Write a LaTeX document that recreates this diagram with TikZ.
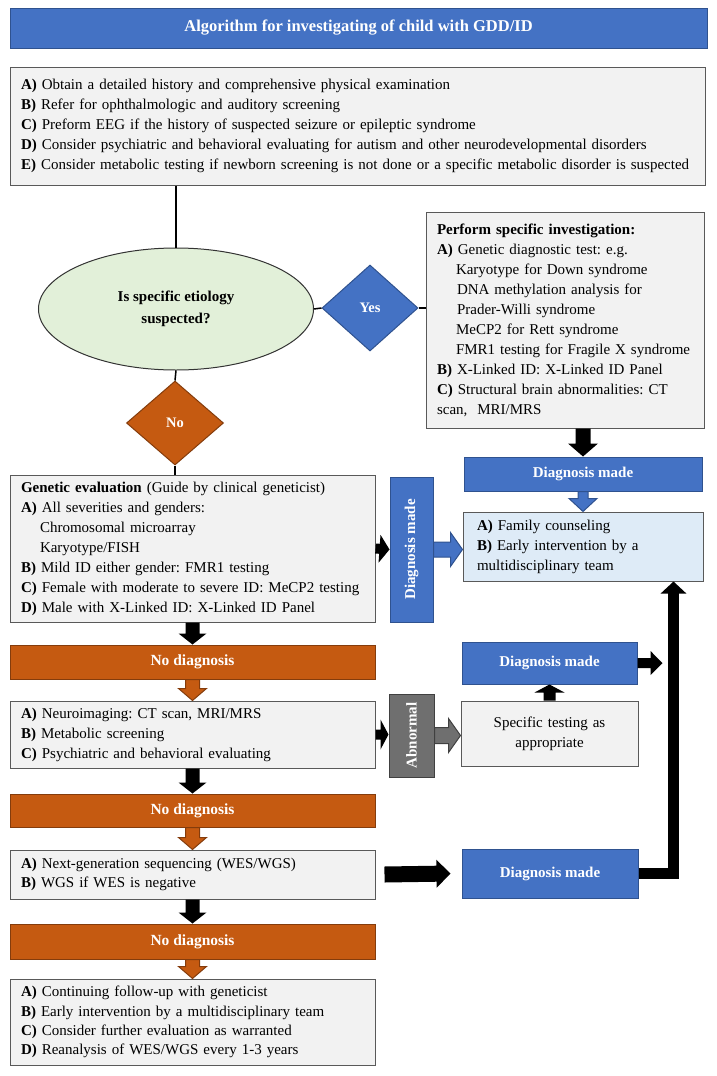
\documentclass[tikz,border=0pt]{standalone}
\usepackage{fontspec}
\setmainfont{Liberation Serif}
\usepackage{graphicx}
\usepackage{tikz}
\usetikzlibrary{shapes.geometric}
\usetikzlibrary{calc}
\usetikzlibrary{arrows.meta}
\frenchspacing
\definecolor{dxblue}{HTML}{4472C4}
\definecolor{dxblueline}{HTML}{2F528F}
\definecolor{ndorange}{HTML}{C55A11}
\definecolor{ndorangeline}{HTML}{843C0C}
\definecolor{boxgray}{HTML}{F2F2F2}
\definecolor{boxline}{HTML}{595959}
\definecolor{abngray}{HTML}{6F6F6F}
\definecolor{ellgreen}{HTML}{E2F0D9}
\definecolor{famblue}{HTML}{DEEBF7}
\tikzstyle{infobox}=[rectangle,draw=boxline,fill=boxgray,line width=1pt,inner xsep=11pt,inner ysep=0pt,align=left,font=\fontsize{15}{20}\selectfont]
\tikzstyle{dxbar}=[rectangle,draw=dxblueline,fill=dxblue,line width=1pt,inner sep=0pt,text=white,font=\bfseries\fontsize{15}{18}\selectfont]
\tikzstyle{ndbar}=[rectangle,draw=ndorangeline,fill=ndorange,line width=1pt,inner sep=0pt,text=white,font=\bfseries\fontsize{15.5}{18}\selectfont]
\tikzstyle{choice}=[diamond,line width=1pt,inner sep=0pt,text=white,font=\bfseries\fontsize{14.5}{18}\selectfont]
\tikzstyle{link}=[draw,line width=1.5pt]
\tikzstyle{fatblack}=[fill=black]
\tikzstyle{fatblue}=[fill=dxblue,draw=dxblueline,line width=1pt]
\tikzstyle{fatorange}=[fill=ndorange,draw=ndorangeline,line width=1pt]
\tikzstyle{fatgray}=[fill=abngray,draw=black!75,line width=1pt]
% block arrow: style, from, to, half shaft, half head, head length
\newcommand{\fatarrow}[6]{%
  \coordinate (hb) at ($(#3)!#6!(#2)$);
  \path[#1] ($(#2)!#4!90:(#3)$) -- ($(hb)!#4!90:(#3)$) -- ($(hb)!#5!90:(#3)$)
    -- (#3) -- ($(hb)!#5!-90:(#3)$) -- ($(hb)!#4!-90:(#3)$) -- ($(#2)!#4!-90:(#3)$) -- cycle;}
\begin{document}
\begin{tikzpicture}[x=1pt,y=-1pt]
  \useasboundingbox (0,0) rectangle (717,1076);

  \node[dxbar, minimum width=697pt, minimum height=40pt, font=\bfseries\fontsize{16.5}{18}\selectfont] (title) at (358.5,28) {Algorithm for investigating of child with GDD/ID};

  \node[infobox, text width=673pt, minimum height=118pt] (hist) at (357.5,126) {%
    \textbf{A)} Obtain a detailed history and comprehensive physical examination\\
    \textbf{B)} Refer for ophthalmologic and auditory screening\\
    \textbf{C)} Preform EEG if the history of suspected seizure or epileptic syndrome\\
    \textbf{D)} Consider psychiatric and behavioral evaluating for autism and other neurodevelopmental disorders\\
    \textbf{E)} Consider metabolic testing if newborn screening is not done or a specific metabolic disorder is suspected};

  \node[ellipse, draw=black!80, fill=ellgreen, line width=1pt, minimum width=275pt, minimum height=122pt, inner sep=0pt, align=center, font=\bfseries\fontsize{15}{22}\selectfont] (ask) at (176,309) {Is specific etiology\\suspected?};
  \node[choice, draw=dxblueline, fill=dxblue, minimum width=96pt, minimum height=86pt] (yes) at (370,308) {Yes};
  \node[choice, draw=ndorangeline, fill=ndorange, minimum width=97pt, minimum height=84pt] (no) at (175,423) {No};

  \node[infobox, text width=256pt, minimum height=216pt] (spec) at (565,320) {%
    \textbf{Perform specific investigation:}\\
    \textbf{A)} Genetic diagnostic test: e.g.\\
    \hspace*{19pt}Karyotype for Down syndrome\\
    \hspace*{20pt}DNA methylation analysis for\\
    \hspace*{20pt}Prader-Willi syndrome\\
    \hspace*{19pt}MeCP2 for Rett syndrome\\
    \hspace*{19pt}FMR1 testing for Fragile X syndrome\\
    \textbf{B)} X-Linked ID: X-Linked ID Panel\\
    \textbf{C)} Structural brain abnormalities: CT\\
    scan,\ \ MRI/MRS};

  \node[dxbar, minimum width=238pt, minimum height=34pt] (dm1) at (583,474) {Diagnosis made};
  \node[infobox, fill=famblue, inner xsep=14pt, text width=212pt, minimum height=69pt] (fam) at (583,546.5) {%
    \textbf{A)} Family counseling\\
    \textbf{B)} Early intervention by a\\
    multidisciplinary team};

  \node[infobox, text width=343pt, minimum height=147pt] (gen) at (192.5,548.5) {%
    \textbf{Genetic evaluation} (Guide by clinical geneticist)\\
    \textbf{A)} All severities and genders:\\
    \hspace*{19pt}Chromosomal microarray\\
    \hspace*{19pt}Karyotype/FISH\\
    \textbf{B)} Mild ID either gender: FMR1 testing\\
    \textbf{C)} Female with moderate to severe ID: MeCP2 testing\\
    \textbf{D)} Male with X-Linked ID: X-Linked ID Panel};
  \node[dxbar, minimum width=43pt, minimum height=145pt] (dmv) at (411.5,549.5) {\rotatebox{90}{Diagnosis made}};

  \node[ndbar, minimum width=365pt, minimum height=34pt] (nd1) at (192.5,662) {No diagnosis};
  \node[infobox, text width=343pt, minimum height=67pt] (neuro) at (192.5,734.5) {%
    \textbf{A)} Neuroimaging: CT scan, MRI/MRS\\
    \textbf{B)} Metabolic screening\\
    \textbf{C)} Psychiatric and behavioral evaluating};
  \node[dxbar, fill=abngray, draw=black!75, minimum width=45pt, minimum height=83pt] (abn) at (411.5,735.5) {\rotatebox{90}{Abnormal}};
  \node[infobox, align=center, text width=155pt, minimum height=65pt] (test) at (549.5,733.5) {Specific testing as\\appropriate};
  \node[dxbar, minimum width=175pt, minimum height=42pt] (dm2) at (549.5,663) {Diagnosis made};

  \node[ndbar, minimum width=365pt, minimum height=33pt] (nd2) at (192.5,810.5) {No diagnosis};
  \node[infobox, text width=343pt, minimum height=49pt, font=\fontsize{15}{19}\selectfont] (ngs) at (192.5,874.5) {%
    \textbf{A)} Next-generation sequencing (WES/WGS)\\
    \textbf{B)} WGS if WES is negative};
  \node[dxbar, minimum width=176pt, minimum height=49pt] (dm3) at (550,873.5) {Diagnosis made};

  \node[ndbar, minimum width=365pt, minimum height=35pt] (nd3) at (192.5,941.5) {No diagnosis};
  \node[infobox, text width=343pt, minimum height=86pt, font=\fontsize{15}{19.3}\selectfont] (fin) at (192.5,1022) {%
    \textbf{A)} Continuing follow-up with geneticist\\
    \textbf{B)} Early intervention by a multidisciplinary team\\
    \textbf{C)} Consider further evaluation as warranted\\
    \textbf{D)} Reanalysis of WES/WGS every 1-3 years};

  % plain links of the decision part
  \path[link] (ask.north |- hist.south) -- (ask.north);
  \path[link] (ask.east) -- (yes.west);
  \path[link] (yes.east) -- (spec.west |- yes.east);
  \path[link] (ask.south) -- (no.north);
  \path[link] (no.south) -- (no.south |- gen.north);

  % free ends next to the return line
  \coordinate (famin) at ($(fam.south east)+(-30,0)$);
  \coordinate (dm2in) at ($(famin |- dm2.east)+(-11,0)$);
  \coordinate (ngsout) at ($(ngs.east)+(9,0)$);
  \coordinate (dm3in) at ($(dm3.west)+(-11,0)$);

  % block arrows
  \fatarrow{fatblack}{dm1.north |- spec.south}{dm1.north}{7.5pt}{15pt}{13pt}
  \fatarrow{fatblue}{dm1.south}{fam.north}{5pt}{14pt}{13pt}
  \fatarrow{fatblack}{gen.east}{dmv.west}{5pt}{14pt}{10pt}
  \fatarrow{fatblue}{dmv.east}{fam.west |- dmv.east}{7.5pt}{17pt}{12pt}
  \foreach \source/\dest in {gen/nd1, neuro/nd2, ngs/nd3}
    \fatarrow{fatblack}{\source.south}{\dest.north}{7pt}{14pt}{11pt};
  \foreach \source/\dest in {nd1/neuro, nd2/ngs, nd3/fin}
    \fatarrow{fatorange}{\source.south}{\dest.north}{7pt}{14pt}{12pt};
  \fatarrow{fatblack}{neuro.east}{abn.west |- neuro.east}{5pt}{15pt}{8pt}
  \fatarrow{fatgray}{abn.east}{test.west |- abn.east}{8pt}{17pt}{12pt}
  \fatarrow{fatblack}{test.north}{dm2.south}{6pt}{15pt}{8pt}
  \fatarrow{fatblack}{dm2.east}{dm2in}{5pt}{12pt}{12pt}
  \fatarrow{fatblack}{ngsout}{dm3in}{8pt}{14pt}{14pt}
  \draw[line width=11pt, line join=miter, -{Triangle[length=12pt,width=25pt]}] (dm3.east) -| (famin);
\end{tikzpicture}
\end{document}
